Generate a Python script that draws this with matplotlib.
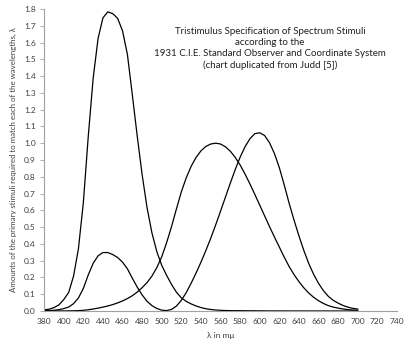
import matplotlib.pyplot as plt

# CIE 1931 standard observer, 5 nm steps
wavelengths = list(range(380, 705, 5))

x_bar = [0.001368, 0.002236, 0.004243, 0.007650, 0.014310, 0.023190, 0.043510, 0.077630,
         0.134380, 0.214770, 0.283900, 0.328500, 0.348280, 0.348060, 0.336200, 0.318700,
         0.290800, 0.251100, 0.195360, 0.142100, 0.095640, 0.057950, 0.032010, 0.014700,
         0.004900, 0.002400, 0.009300, 0.029100, 0.063270, 0.109600, 0.165500, 0.225750,
         0.290400, 0.359700, 0.433450, 0.512050, 0.594500, 0.678400, 0.762100, 0.842500,
         0.916300, 0.978600, 1.026300, 1.056700, 1.062200, 1.045600, 1.002600, 0.938400,
         0.854450, 0.751400, 0.642400, 0.541900, 0.447900, 0.360800, 0.283500, 0.218700,
         0.164900, 0.121200, 0.087400, 0.063600, 0.046770, 0.032900, 0.022700, 0.015840,
         0.011359]

y_bar = [0.000039, 0.000064, 0.000120, 0.000217, 0.000396, 0.000640, 0.001210, 0.002180,
         0.004000, 0.007300, 0.011600, 0.016840, 0.023000, 0.029800, 0.038000, 0.048000,
         0.060000, 0.073900, 0.090980, 0.112600, 0.139020, 0.169300, 0.208020, 0.258600,
         0.323000, 0.407300, 0.503000, 0.608200, 0.710000, 0.793200, 0.862000, 0.914850,
         0.954000, 0.980300, 0.994950, 1.000000, 0.995000, 0.978600, 0.952000, 0.915400,
         0.870000, 0.816300, 0.757000, 0.694900, 0.631000, 0.566800, 0.503000, 0.441200,
         0.381000, 0.321000, 0.265000, 0.217000, 0.175000, 0.138200, 0.107000, 0.081600,
         0.061000, 0.044580, 0.032000, 0.023200, 0.017000, 0.011920, 0.008210, 0.005723,
         0.004102]

z_bar = [0.006450, 0.010550, 0.020050, 0.036210, 0.067850, 0.110200, 0.207400, 0.371300,
         0.645600, 1.039050, 1.385600, 1.622960, 1.747060, 1.782600, 1.772110, 1.744100,
         1.669200, 1.528100, 1.287640, 1.041900, 0.812950, 0.616200, 0.465180, 0.353300,
         0.272000, 0.212300, 0.158200, 0.111700, 0.078250, 0.057250, 0.042160, 0.029840,
         0.020300, 0.013400, 0.008750, 0.005750, 0.003900, 0.002750, 0.002100, 0.001800,
         0.001650, 0.001400, 0.001100, 0.001000, 0.000800, 0.000600, 0.000340, 0.000240,
         0.000190, 0.000100, 0.000050, 0.000030, 0.000020, 0.000010, 0.0, 0.0,
         0.0, 0.0, 0.0, 0.0, 0.0, 0.0, 0.0, 0.0,
         0.0]

x_ticks = list(range(380, 760, 20))
y_ticks = [i / 10 for i in range(0, 19)]

title_lines = ["Tristimulus Specification of Spectrum Stimuli",
               "according to the",
               "1931 C.I.E. Standard Observer and Coordinate System",
               "(chart duplicated from Judd [5])"]

plt.rcParams['font.family'] = ['Lato', 'DejaVu Sans']

fig = plt.figure(figsize=(4.05, 3.44), dpi=100)
ax = fig.add_axes([0.109, 0.096, 0.871, 0.878])

for curve in (z_bar, x_bar, y_bar):
    ax.plot(wavelengths, curve, color='black', lw=0.9)

ax.set_xlim(380, 740)
ax.set_ylim(0, 1.8)
ax.set_xticks(x_ticks)
ax.set_yticks(y_ticks)
ax.set_yticklabels([f"{v:.1f}" for v in y_ticks])
ax.tick_params(axis='x', length=0, labelsize=6, labelcolor='#404040', pad=5)
ax.tick_params(axis='y', length=3, width=0.6, color='#a0a0a0', labelsize=6,
               labelcolor='#404040', pad=3)

for side in ('top', 'right'):
    ax.spines[side].set_visible(False)
for side in ('left', 'bottom'):
    ax.spines[side].set_color('#a0a0a0')
    ax.spines[side].set_linewidth(0.8)

ax.set_xlabel("λ in mμ", fontsize=6, color='#404040', labelpad=5)
ax.set_ylabel("Amounts of the primary stimuli required to match each of the wavelengths, λ",
              fontsize=5.7, color='#404040', labelpad=5)

ax.text(0.64, 0.94, "\n".join(title_lines), transform=ax.transAxes, ha='center', va='top',
        fontsize=7, color='#202020', linespacing=1.3)

fig.savefig("out.png", dpi=100)
